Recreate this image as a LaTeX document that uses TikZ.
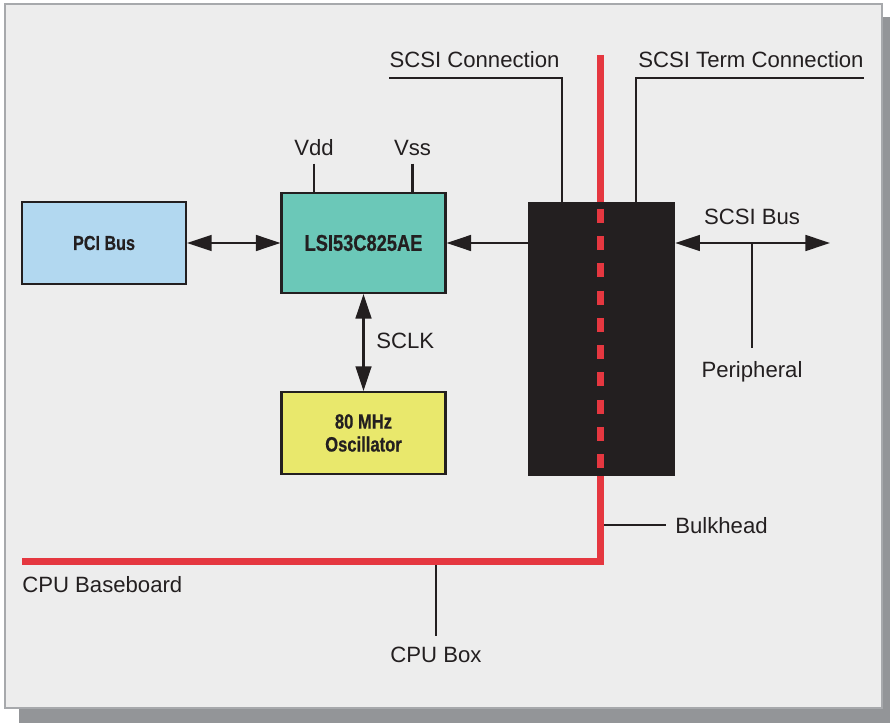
\documentclass[tikz,border=0pt]{standalone}
\usepackage{fontspec}
\setmainfont{Liberation Sans}
\newfontfamily\boxfont[FakeStretch=0.8,FakeBold=0.6]{Liberation Sans Bold}
\usetikzlibrary{arrows.meta}
\definecolor{ink}{HTML}{231F20}
\definecolor{panelgray}{HTML}{EDEDED}
\definecolor{rimgray}{HTML}{A7A9AC}
\definecolor{shadowgray}{HTML}{939598}
\definecolor{wallred}{HTML}{E53740}
\definecolor{busblue}{HTML}{B2D8F0}
\definecolor{chipteal}{HTML}{6BC8B8}
\definecolor{oscyellow}{HTML}{E9E86C}

\begin{document}
\begin{tikzpicture}[x=0.02cm, y=-0.02cm, node distance=2cm, auto]
\tikzstyle{block} = [rectangle, draw=ink, line width=1.2pt, inner sep=0pt, minimum width=3.28cm, text=ink, align=center, font=\boxfont\fontsize{11.8}{13}\selectfont]
\tikzstyle{tag} = [inner sep=0pt, anchor=base, text=ink, font=\fontsize{12.6}{15}\selectfont]
\tikzstyle{arrow} = [line width=1.3pt, draw=ink, >={Triangle[length=14pt,width=9pt]}]
\tikzstyle{lead} = [line width=1.2pt, draw=ink]
\tikzstyle{wall} = [line width=4pt, draw=wallred]

\useasboundingbox (0,0) rectangle (890,723);
\fill [shadowgray] (19,17) rectangle (890,723);
\draw [line width=1.2pt, draw=rimgray, fill=panelgray] (5,4) rectangle (882,708);

\draw [wall, line join=miter] (600.5,55) -- (600.5,561.5) -- (22,561.5);

\node [block, fill=chipteal, minimum height=2cm, font=\boxfont\fontsize{13}{15}\selectfont] (lsi) at (363.5,243) {LSI53C825AE};
\node [block, fill=busblue, minimum height=1.64cm, left of=lsi, node distance=5.19cm, font=\boxfont\fontsize{11.5}{13}\selectfont] (pci) {PCI Bus};
\node [block, fill=oscyellow, minimum height=1.64cm, below of=lsi, node distance=3.8cm] (osc) {80 MHz\\Oscillator};
\node [rectangle, fill=ink, inner sep=0pt, minimum width=2.94cm, minimum height=5.48cm] (connector) at (601.5,339) {};

\draw [wall, dash pattern=on 7.9pt off 7.6pt] (600.5,209) -- (600.5,476);

\node [tag] (vdd) at (314,156) {Vdd};
\node [tag] (vss) at (412.5,156) {Vss};
\node [tag, anchor=base west] (sclk) at (376,348) {SCLK};
\node [tag] (scsicon) at (474.5,68) {SCSI Connection};
\node [tag] (scsiterm) at (751,68) {SCSI Term Connection};
\node [tag] (scsibus) at (752,225) {SCSI Bus};
\node [tag] (peri) at (752,377) {Peripheral};
\node [tag, anchor=base west] (bulkhead) at (675,533) {Bulkhead};
\node [tag, anchor=base west] (baseboard) at (22,592) {CPU Baseboard};
\node [tag] (cpubox) at (436,662) {CPU Box};

\coordinate (busend) at (830,243);
\coordinate (busmid) at (752,243);
\coordinate (wallpt) at (604,525);
\coordinate (floorpt) at (436,565);

\draw [arrow,<->] (pci.east) -- (lsi.west);
\draw [arrow,<-] (lsi.east) -- (lsi.east -| connector.west);
\draw [arrow,<->] (lsi.south) -- (osc.north);
\draw [arrow,<->] (lsi.east -| connector.east) -- (busend);

\draw [lead] (busmid) -- ([yshift=0.26cm]peri.north);
\draw [lead] ([yshift=-0.14cm]vdd.south) -- (vdd.south |- lsi.north);
\draw [lead] ([yshift=-0.14cm]vss.south) -- (vss.south |- lsi.north);
\draw [lead] ([yshift=-0.18cm]scsicon.south west) -| ([xshift=-0.79cm]connector.north);
\draw [lead] ([yshift=-0.18cm]scsiterm.south east) -| ([xshift=0.69cm]connector.north);
\draw [lead] (wallpt) -- ([xshift=-0.18cm]wallpt -| bulkhead.west);
\draw [lead] (floorpt) -- ([yshift=0.2cm]cpubox.north);
\end{tikzpicture}
\end{document}
